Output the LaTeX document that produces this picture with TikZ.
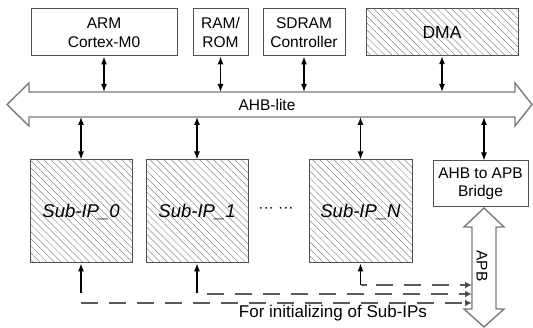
\documentclass[tikz,border=0pt]{standalone}
\usepackage{fontspec}
\setmainfont{Liberation Sans}
\usetikzlibrary{arrows.meta,patterns.meta}
\definecolor{boxc}{HTML}{505050}
\definecolor{hatchc}{HTML}{8A8A8A}
\definecolor{busc}{HTML}{7A7A7A}
\definecolor{dashc}{HTML}{5A5A5A}
\begin{document}
\begin{tikzpicture}[x=1pt,y=-1pt,
  plainbox/.style={draw=boxc,line width=1pt,fill=white,align=center,inner sep=0pt,
    font=\fontsize{15.5}{18.5}\selectfont},
  hatchbox/.style={draw=boxc,line width=1pt,align=center,inner sep=0pt,
    pattern={Lines[angle=-45,distance=5pt,line width=0.5pt]},pattern color=hatchc},
  subip/.style={hatchbox,minimum width=102pt,minimum height=103pt,
    font=\fontsize{18.5}{21}\selectfont\itshape},
  busline/.style={draw=busc,line width=1.4pt,fill=white,line join=miter},
  dar/.style={{Latex[length=8pt,width=6pt]}-{Latex[length=8pt,width=6pt]},line width=1.1pt,black},
  uparr/.style={-{Latex[length=8pt,width=6pt]},line width=1.1pt,black},
  dsh/.style={-{Latex[length=7pt,width=7pt,fill=black]},draw=dashc,line width=1.3pt,
    dash pattern=on 17pt off 11pt},
  lbl/.style={inner sep=0pt,font=\fontsize{15.5}{18.5}\selectfont}]
\useasboundingbox (0,0) rectangle (533,328);

% top boxes
\node[plainbox,minimum width=146pt,minimum height=47pt] (arm) at (104,32.5) {ARM\\Cortex-M0};
\node[plainbox,minimum width=55pt,minimum height=47pt] (ram) at (220.5,32.5) {RAM/\\ROM};
\node[plainbox,minimum width=82pt,minimum height=47pt] (sdram) at (304,32.5) {SDRAM\\Controller};
\node[hatchbox,minimum width=152pt,minimum height=47pt,font=\fontsize{17.5}{20}\selectfont] (dma) at (442,32.5) {DMA};

% AHB bus
\draw[busline] (7,104.5) -- (29,83) -- (29,92) -- (515,92) -- (515,83) -- (532,104.5)
  -- (515,126) -- (515,117) -- (29,117) -- (29,126) -- cycle;
\node[lbl] (ahb) at (267,104.5) {AHB-lite};
\coordinate (bustop) at (0,92);
\coordinate (busbot) at (0,117);

% sub IPs and bridge
\node[subip] (sub0) at (81,211.5) {Sub-IP\_0};
\node[subip] (sub1) at (197,211.5) {Sub-IP\_1};
\node[subip,minimum width=103pt] (subn) at (360.5,211.5) {Sub-IP\_N};
\node[lbl] (dots) at (276,210) {··· ···};
\node[plainbox,minimum width=95pt,minimum height=46pt] (bridge) at (480.5,184) {AHB to APB\\Bridge};
\coordinate (apbx) at (484,0);

% bus connections
\draw[dar] (arm.south) -- (arm.south |- bustop);
\draw[dar] (ram.south) -- (ram.south |- bustop);
\draw[dar] (sdram.south) -- (sdram.south |- bustop);
\draw[dar] (dma.south) -- (dma.south |- bustop);
\draw[dar] (sub0.north |- busbot) -- (sub0.north);
\draw[dar] (sub1.north |- busbot) -- (sub1.north);
\draw[dar] (subn.north |- busbot) -- (subn.north);
\draw[dar] (apbx |- busbot) -- (apbx |- bridge.north);

% APB bus
\draw[busline] (484,208) -- (504,227) -- (496,227) -- (496,309) -- (504,309) -- (484,327)
  -- (464,309) -- (472,309) -- (472,227) -- (464,227) -- cycle;
\node[lbl,rotate=-90] (apb) at (482,266) {APB};

% init paths
\coordinate (f0) at (81,293);
\coordinate (f1) at (197,293);
\coordinate (cn) at (360.5,285);
\coordinate (d0) at (81,303);
\coordinate (d1) at (207,294);
\coordinate (t0) at (472,303);
\coordinate (t1) at (472,294);
\coordinate (tn) at (472,285);
\draw[uparr] (f0) -- (sub0.south);
\draw[uparr] (f1) -- (sub1.south);
\draw[uparr] (cn) -- (subn.south);
\draw[dsh] (d0) -- (t0);
\draw[dsh] (d1) -- (t1);
\draw[dsh,dash pattern=on 6pt off 9pt on 17pt off 11pt on 17pt off 11pt on 17pt off 11pt] (cn) -- (tn);
\node[lbl,font=\fontsize{17}{20}\selectfont] (init) at (333,313) {For initializing of Sub-IPs};
\end{tikzpicture}
\end{document}
